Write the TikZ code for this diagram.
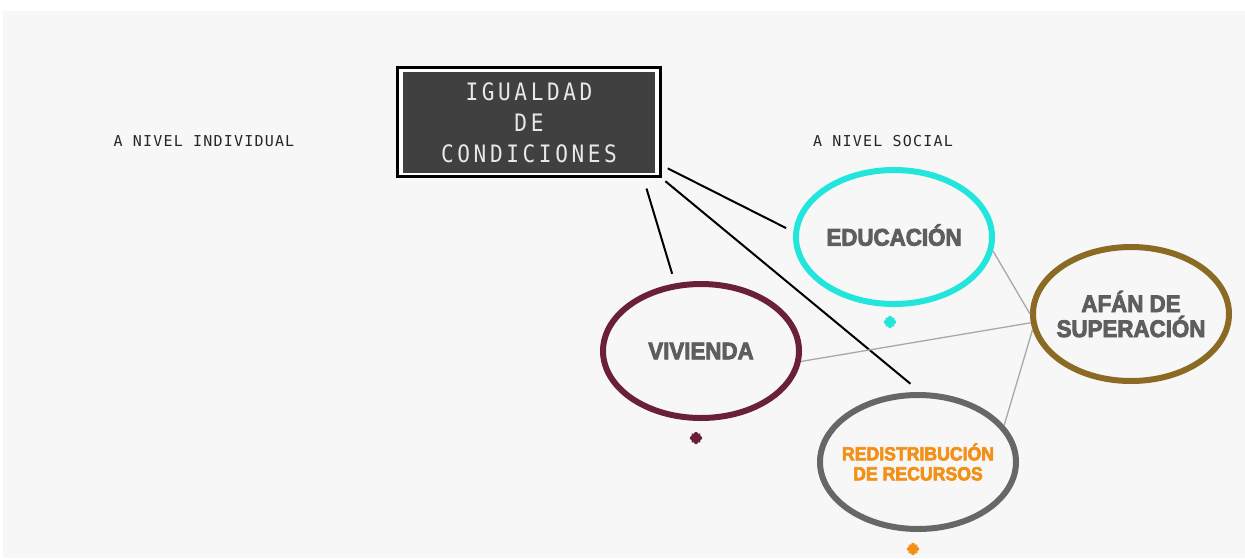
\documentclass[tikz,border=0pt]{standalone}
\usepackage{fontspec}
\usepackage{xcolor}
\usetikzlibrary{shapes.geometric,calc}
\setmainfont{Liberation Sans}
\newfontfamily\boxfont{DejaVu Sans Mono}[FakeStretch=0.88,LetterSpace=15]
\newfontfamily\tagfont{DejaVu Sans Mono}[LetterSpace=8]
\newfontfamily\heavyfont{Liberation Sans}[BoldFeatures={FakeBold=3.5,FakeStretch=0.93}]
\definecolor{bgpanel}{HTML}{F7F7F7}
\definecolor{titlegray}{HTML}{404040}
\definecolor{titletext}{HTML}{E8E8E8}
\definecolor{labelgray}{HTML}{5E5E5E}
\definecolor{tiegray}{HTML}{A8A8A8}
\definecolor{educyan}{HTML}{22E6DC}
\definecolor{vivmaroon}{HTML}{6A2038}
\definecolor{redgray}{HTML}{676767}
\definecolor{redorange}{HTML}{F39018}
\definecolor{afanbrown}{HTML}{8B6A24}

\begin{document}
\begin{tikzpicture}[x=1pt,y=-1pt,
    topic/.style={ellipse,line width=6pt,minimum width=196pt,minimum height=134pt,inner xsep=-45pt,inner ysep=0pt,
        align=center,text=labelgray,font=\heavyfont\bfseries\fontsize{24}{25}\selectfont},
    tag/.style={text=black!85,font=\tagfont\fontsize{15}{18}\selectfont},
    link/.style={line width=2pt,black},
    tie/.style={line width=1.3pt,tiegray}]
    \useasboundingbox (0,0) rectangle (1245,558);
    \fill[bgpanel] (3,11) rectangle (1245,558);

    \node[draw=black,line width=3pt,fill=white,minimum width=263pt,minimum height=109pt,inner sep=0pt] (frame) at (528.5,122) {};
    \node[fill=titlegray,minimum width=252pt,minimum height=101pt,inner sep=0pt,align=center,
        text=titletext,font=\boxfont\fontsize{24}{31}\selectfont] (title) at (529,122.5) {IGUALDAD\\DE\\CONDICIONES};

    \node[tag] (indiv) at (204,141) {A NIVEL INDIVIDUAL};
    \node[tag] (social) at (883,141) {A NIVEL SOCIAL};

    \node[topic,draw=educyan] (edu) at (894,237) {\raisebox{4pt}{EDUCACIÓN}};
    \node[topic,draw=vivmaroon] (viv) at (701,351) {VIVIENDA};
    \node[topic,draw=redgray,text=redorange,font=\heavyfont\bfseries\fontsize{19}{20}\selectfont] (red) at (918,462) {REDISTRIBUCIÓN\\DE RECURSOS};
    \node[topic,draw=afanbrown] (afan) at (1131,314) {AFÁN DE\\SUPERACIÓN};

    \coordinate (edustar) at (890,322);
    \coordinate (vivstar) at (696,438);
    \coordinate (redstar) at (913,549);
    \foreach \s/\c in {edustar/educyan,vivstar/vivmaroon,redstar/redorange}
        \foreach \a in {0,45,90,135}
            \draw[\c,line width=3.4pt,line cap=round] ($(\s)+(\a:4.5)$) -- ($(\s)+(\a+180:4.5)$);

    \draw[link,shorten <=7pt,shorten >=8pt] (frame.-18.4) -- (edu.177);
    \draw[link,shorten <=11pt,shorten >=10pt] (frame.-26.1) -- (viv.111);
    \draw[link,shorten <=5pt,shorten >=13pt] (frame.south east) -- (red.88);

    \draw[tie] (edu.-8.6) -- (afan.180.5);
    \draw[tie] (viv.-6) -- (afan.185);
    \draw[tie] (red.23) -- (afan.189);
\end{tikzpicture}
\end{document}
